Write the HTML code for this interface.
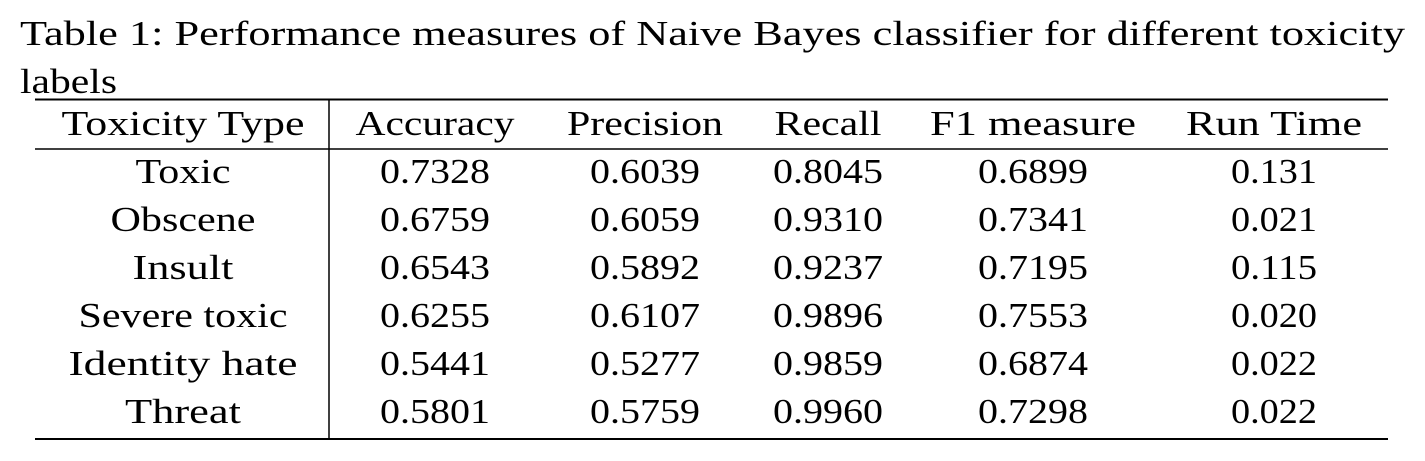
<!DOCTYPE html>
<html><head><meta charset="utf-8"><style>
html,body{margin:0;padding:0;background:#fff;}
svg{display:block;}
text{font-family:"Liberation Serif",serif;font-size:35px;fill:#000;}
</style></head><body>
<svg id="t" width="1425" height="461" viewBox="0 0 1425 461">
<text x="20" y="45" textLength="1385" lengthAdjust="spacingAndGlyphs">Table 1:  Performance measures of Naive Bayes classifier for different toxicity</text>
<text x="20" y="93" textLength="97" lengthAdjust="spacingAndGlyphs">labels</text>
<line x1="35" y1="99.5" x2="1388" y2="99.5" stroke="#000" stroke-width="2"/>
<line x1="35" y1="149" x2="1388" y2="149" stroke="#000" stroke-width="1.5"/>
<line x1="35" y1="439" x2="1388" y2="439" stroke="#000" stroke-width="2"/>
<line x1="329" y1="99" x2="329" y2="439" stroke="#000" stroke-width="1.5"/>
</svg>
<script>
const headers=["Toxicity Type","Accuracy","Precision","Recall","F1 measure","Run Time"];
const labels=["Toxic","Obscene","Insult","Severe toxic","Identity hate","Threat"];
const accuracy=["0.7328","0.6759","0.6543","0.6255","0.5441","0.5801"];
const precision=["0.6039","0.6059","0.5892","0.6107","0.5277","0.5759"];
const recall=["0.8045","0.9310","0.9237","0.9896","0.9859","0.9960"];
const f1=["0.6899","0.7341","0.7195","0.7553","0.6874","0.7298"];
const runtime=["0.131","0.021","0.115","0.020","0.022","0.022"];
const svg=document.getElementById('t');
const NS="http://www.w3.org/2000/svg";
const colX=[183,435,645,828,1033,1274];
const headW=[243,159,156,107,206,176];
const labelW={"Toxic":95,"Obscene":145,"Insult":101,"Severe toxic":209,"Identity hate":229,"Threat":116};
function txt(s,x,y,w,name){
  const t=document.createElementNS(NS,'text');
  t.setAttribute('x',x);t.setAttribute('y',y);
  t.setAttribute('text-anchor','middle');
  t.setAttribute('textLength',w);t.setAttribute('lengthAdjust','spacingAndGlyphs');
  t.textContent=s;
  
  
  svg.appendChild(t);
}
headers.forEach((h,i)=>txt(h,colX[i],135,headW[i],'header-'+h.toLowerCase().replace(/ /g,'-')));
const cols=[accuracy,precision,recall,f1,runtime];
labels.forEach((l,r)=>{
  const y=183+r*48;
  txt(l,colX[0],y,labelW[l]||l.length*18,'row-label-'+l.toLowerCase().replace(/ /g,'-'));
  cols.forEach((c,ci)=>{
    txt(c[r],colX[ci+1],y,c[r].length===6?110:86,'cell-'+headers[ci+1].toLowerCase().replace(/ /g,'-')+'-'+r);
  });
});
</script>
</body></html>
